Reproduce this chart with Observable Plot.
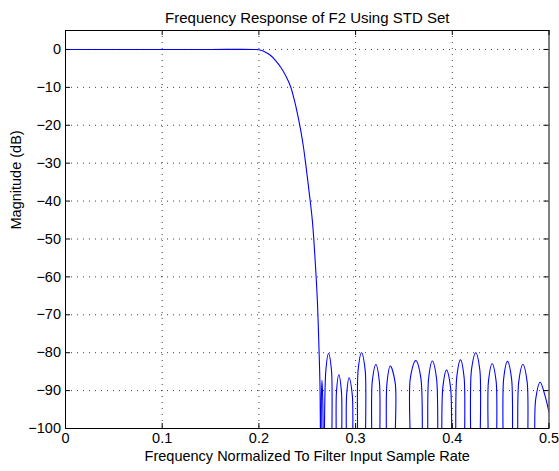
<!DOCTYPE html>
<html><head><meta charset="utf-8">
<script src="https://cdn.jsdelivr.net/npm/d3@7"></script>
<script src="https://cdn.jsdelivr.net/npm/@observablehq/plot@0.6"></script>
<style>body{margin:0;background:#fff;} #chart svg{display:block}</style>
</head><body><div id="chart"></div>
<script>
// Frequency (normalized) and magnitude (dB)
const freq = [
  0, 0.05, 0.1, 0.15, 0.195, 0.2, 0.206, 0.2122, 0.2175, 0.2226, 0.228, 0.2329, 0.2365, 0.2399, 0.2433, 0.246, 0.2484, 0.2519, 0.2554, 0.2588, 0.2606, 0.2622, 0.2632, 0.2640,
  0.2646, 0.2652, 0.2660, 0.2672,
  0.2692, 0.2720, 0.2751, 0.2771,
  0.2785, 0.2802, 0.2826, 0.2854, 0.2871,
  0.2888, 0.2907, 0.2932, 0.2966, 0.2985,
  0.3002, 0.3026, 0.3061, 0.3099, 0.3123,
  0.3147, 0.3172, 0.3210, 0.3246, 0.3271,
  0.3295, 0.3324, 0.3358, 0.3410, 0.3439,
  0.3530, 0.3566, 0.3623, 0.3675, 0.3711,
  0.3727, 0.3755, 0.3793, 0.3837, 0.3865,
  0.3875, 0.3902, 0.3940, 0.3982, 0.4009,
  0.4020, 0.4046, 0.4085, 0.4122, 0.4148,
  0.4169, 0.4198, 0.4243, 0.4285, 0.4314,
  0.4348, 0.4374, 0.4412, 0.4453, 0.4479,
  0.4503, 0.4531, 0.4570, 0.4613, 0.4641,
  0.4658, 0.4687, 0.4730, 0.4774, 0.4803,
  0.4831, 0.4862, 0.4909, 0.4955, 0.5
];
const magDb = [
  0, 0, 0, 0, 0, -0.1, -0.6, -1.6, -3.0, -4.7, -7.1, -9.9, -13.2, -17.0, -21.4, -25.6, -30.2, -37.5, -45.5, -58.3, -67.1, -79.4, -89.0, -120,
  -92, -87.3, -92, -120,
  -84.8, -80.2, -84.8, -120,
  -120, -90.4, -85.8, -90.4, -120,
  -120, -91.2, -86.6, -91.2, -120,
  -120, -84.6, -80.0, -84.6, -120,
  -120, -87.7, -83.1, -87.7, -120,
  -120, -88.1, -83.5, -88.1, -120,
  -120, -86.7, -82.1, -86.7, -120,
  -120, -86.8, -82.2, -86.8, -120,
  -120, -89.2, -84.6, -89.2, -120,
  -120, -86.5, -81.9, -86.5, -120,
  -120, -84.6, -80.0, -84.6, -120,
  -120, -87.5, -82.9, -87.5, -120,
  -120, -86.9, -82.3, -86.9, -120,
  -120, -87.7, -83.1, -87.7, -120,
  -120, -92.4, -87.8, -91.0, -95.7
];
const xTicks = [0, 0.1, 0.2, 0.3, 0.4, 0.5];
const yTicks = [-100, -90, -80, -70, -60, -50, -40, -30, -20, -10, 0];
const titleText = "Frequency Response of F2 Using STD Set";
const xLabelText = "Frequency Normalized To Filter Input Sample Rate";
const yLabelText = "Magnitude (dB)";

const data = freq.map((f, i) => ({f, db: magDb[i]}));
const fmtY = d => d === 0 ? "0" : "\u2212" + Math.abs(d);
const fmtX = d => d === 0 ? "0" : String(d);
const font = "'Liberation Sans', Arial, Helvetica, sans-serif";
const W = 559, H = 471, ML = 65, MR = 10.5, MT = 30, MB = 43;
const innerW = W - ML - MR, innerH = H - MT - MB, TL = 5;
const gridStyle = {stroke: "#000", strokeOpacity: 0.75, strokeWidth: 1, strokeDasharray: "1,5"};

const chart = Plot.plot({
  width: W, height: H,
  marginLeft: ML, marginRight: MR, marginTop: MT, marginBottom: MB,
  style: {fontFamily: font, fontSize: "14.5px", background: "#fff", color: "#000"},
  x: {domain: [0, 0.5]},
  y: {domain: [-100, 5]},
  marks: [
    Plot.gridX(xTicks.slice(1, -1), gridStyle),
    Plot.gridY(yTicks.slice(1), gridStyle),
    Plot.line(data, {x: "f", y: "db", stroke: "#0000ff", strokeWidth: 1.1, curve: "catmull-rom", clip: true}),
    Plot.frame({stroke: "#000", strokeWidth: 1}),
    Plot.tickX(xTicks, {x: d => d, stroke: "#000", insetTop: innerH - TL}),
    Plot.tickX(xTicks, {x: d => d, stroke: "#000", insetBottom: innerH - TL}),
    Plot.tickY(yTicks, {y: d => d, stroke: "#000", insetRight: innerW - TL}),
    Plot.tickY(yTicks, {y: d => d, stroke: "#000", insetLeft: innerW - TL}),
    Plot.axisX(xTicks, {tickSize: 0, tickPadding: 4, tickFormat: fmtX, label: null}),
    Plot.axisY(yTicks, {tickSize: 0, tickPadding: 4.5, tickFormat: fmtY, label: null}),
    Plot.text([titleText], {text: d => d, frameAnchor: "top", dy: -18, fontSize: 15}),
    Plot.text([xLabelText], {text: d => d, frameAnchor: "bottom", dy: 32, fontSize: 14.5}),
    Plot.text([yLabelText], {text: d => d, frameAnchor: "left", dx: -49, rotate: -90, fontSize: 14.5})
  ]
});
document.getElementById("chart").appendChild(chart);
</script>
</body></html>
